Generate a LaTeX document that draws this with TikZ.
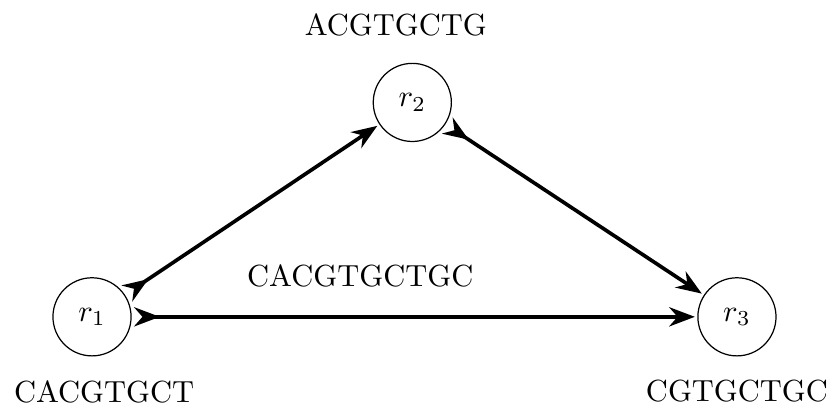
\documentclass[tikz,border=0pt]{standalone}
\usepackage{tikz}
\usetikzlibrary{arrows.meta,positioning}

\begin{document}
\begin{tikzpicture}[
  read/.style={circle, draw, minimum size=0.9cm, inner sep=0pt, outer sep=1pt},
  overlap/.style={very thick, {Stealth[reversed]}-{Stealth}},
  seq/.style={inner sep=1pt}
]
  \useasboundingbox (0,0) rectangle (9.585,4.70);

  \node[read] (r1) at (1.06,1.05) {$r_1$};
  \node[read] (r2) at (4.75,3.52) {$r_2$};
  \node[read] (r3) at (8.49,1.05) {$r_3$};

  \node[seq] (s1) at (1.20,0.19) {CACGTGCT};
  \node[seq] (s2) at (4.56,4.41) {ACGTGCTG};
  \node[seq] (s3) at (8.49,0.20) {CGTGCTGC};
  \node[seq] (s13) at (4.15,1.52) {CACGTGCTGC};

  \draw[overlap] (r1) -- (r2);
  \draw[overlap] (r2) -- (r3);
  \draw[overlap] (r1) -- (r3);
\end{tikzpicture}
\end{document}
